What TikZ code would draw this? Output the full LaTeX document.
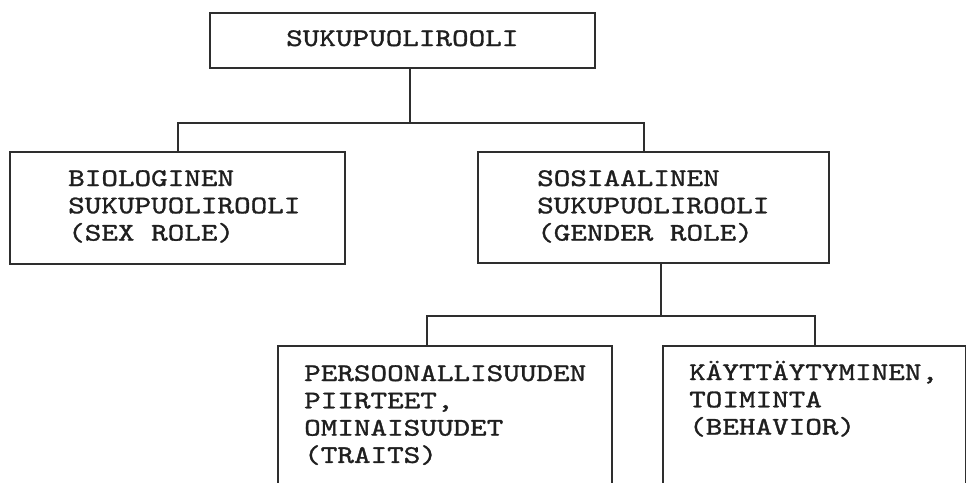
\documentclass[tikz,border=0pt]{standalone}
\usepackage{fontspec}
\usepackage{graphicx}
\newfontfamily\courfont{lmmono10-regular}[Extension=.otf, FakeBold=1.1]
\usetikzlibrary{calc}
\newcommand{\mlines}[1]{\scalebox{1.244}[1]{\begin{tabular}[t]{@{}l@{}}#1\end{tabular}}}
\tikzset{
  boxnode/.style={draw=black!82, line width=2pt, rectangle, inner sep=0pt, anchor=north west},
  lbl/.style={inner sep=0pt, anchor=base west, text=black!88,
    font=\courfont\fontsize{25.4pt}{27.3pt}\selectfont},
  conn/.style={draw=black!82, line width=2pt}
}
\begin{document}
\begin{tikzpicture}[x=1pt,y=-1pt]
\useasboundingbox (0,0) rectangle (966,482);
\clip (0,0) rectangle (966,482);
% boxes
\node[boxnode, minimum width=385pt, minimum height=55pt] (top) at (209,12) {};
\node[boxnode, minimum width=335pt, minimum height=112pt] (bio) at (9,151) {};
\node[boxnode, minimum width=351pt, minimum height=111pt] (gen) at (477,151) {};
\node[boxnode, minimum width=334pt, minimum height=160pt] (pers) at (277,345) {};
\node[boxnode, minimum width=303pt, minimum height=160pt] (beh) at (662,345) {};
% labels (anchor = baseline of the first line)
\node[lbl] (ttop) at (286,46) {\mlines{SUKUPUOLIROOLI}};
\node[lbl] (tbio) at (68,186) {\mlines{BIOLOGINEN\\SUKUPUOLIROOLI\\(SEX ROLE)}};
\node[lbl] (tgen) at (537,186) {\mlines{SOSIAALINEN\\SUKUPUOLIROOLI\\(GENDER ROLE)}};
\node[lbl] (tpers) at (304,381) {\mlines{PERSOONALLISUUDEN\\PIIRTEET,\\OMINAISUUDET\\(TRAITS)}};
\node[lbl] (tbeh) at (689,380) {\mlines{KÄYTTÄYTYMINEN,\\TOIMINTA\\(BEHAVIOR)}};
% connectors
\coordinate (j1) at (410,123);
\coordinate (d2) at (644,151);
\coordinate (j2) at (661,316);
\coordinate (d3) at (427,345);
\draw[conn] (top.south -| j1) -- (j1);
\draw[conn] (bio.north) |- (j1) -| (d2);
\draw[conn] (gen.south -| j2) -- (j2);
\draw[conn] (d3) |- (j2) -| (beh.north);
\end{tikzpicture}
\end{document}
